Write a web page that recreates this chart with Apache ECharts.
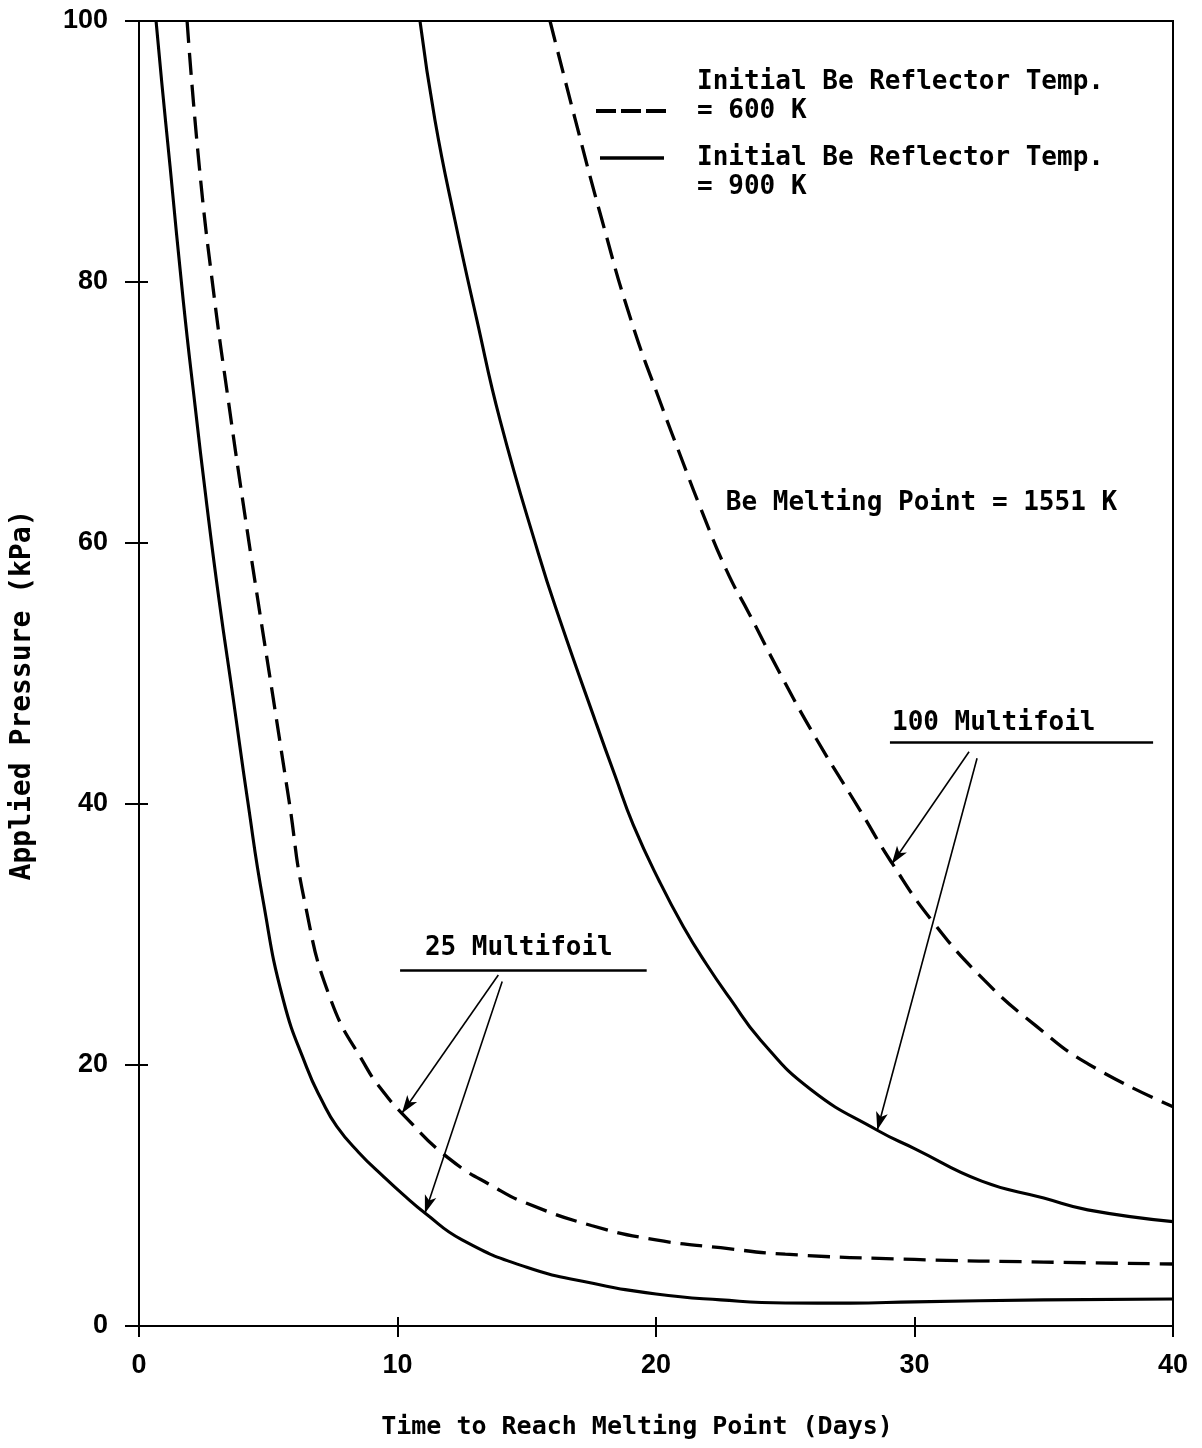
<!DOCTYPE html>
<html>
<head>
<meta charset="utf-8">
<script src="https://cdn.jsdelivr.net/npm/echarts@6/dist/echarts.min.js"></script>
<style>
html,body{margin:0;padding:0;background:#fff;}
#chart{width:1202px;height:1448px;}
</style>
</head>
<body>
<div id="chart"></div>
<script>
// ---- Data ----
// 25 Multifoil, initial Be reflector temp 900 K (solid)
const days25_900 = [0.66, 0.88, 1.2, 1.71, 2.17, 2.6, 3.1, 3.65, 4.2, 4.8, 5.58, 6.49, 7.07, 7.65, 8.5, 9.43, 10.2, 11.06, 12.5, 15, 17.5, 20, 22.5, 25, 27.5, 30, 35, 40];
const kpa25_900  = [100, 95.3, 88.9, 78.6, 70.5, 63.3, 55.6, 48, 40.3, 32.6, 25, 19.8, 17.3, 15.3, 13.3, 11.5, 10.1, 8.66, 6.6, 4.5, 3.3, 2.45, 2.0, 1.76, 1.75, 1.85, 2.0, 2.07];
// 25 Multifoil, 600 K (dashed)
const days25_600 = [1.86, 2.33, 2.9, 3.45, 4.01, 4.6, 5.2, 5.8, 6.4, 7.42, 8.8, 9.45, 10.17, 11.95, 13.87, 15, 17.5, 20, 22.5, 25, 30, 35, 40];
const kpa25_600  = [100, 88.9, 79, 71, 63.3, 55.6, 48, 40.3, 32.6, 25, 19.8, 17.95, 16.3, 12.9, 10.5, 9.4, 7.7, 6.6, 6.0, 5.5, 5.1, 4.9, 4.75];
// 100 Multifoil, 900 K (solid)
const days100_900 = [10.87, 11.45, 12.22, 13.07, 13.97, 15.45, 16.3, 17.7, 18.41, 19.12, 20.15, 21.06, 21.96, 22.86, 24.05, 26.0, 28.56, 30, 32.6, 35, 36.7, 40];
const kpa100_900  = [100, 92.4, 84.75, 77.1, 69.4, 59.2, 54.0, 46.1, 42.2, 38.4, 34.0, 30.6, 27.7, 25.1, 21.9, 18.1, 15.0, 13.6, 11.1, 9.8, 8.9, 8.0];
// 100 Multifoil, 600 K (dashed)
const days100_600 = [15.9, 16.87, 17.91, 19.03, 20.22, 21.0, 21.7, 22.73, 23.6, 24.8, 26.2, 27.9, 29.12, 30.7, 32.7, 34.7, 36.7, 40];
const kpa100_600  = [100, 92.5, 84.75, 77.1, 70.5, 66.4, 62.8, 57.9, 54.6, 50.0, 45.0, 39.5, 35.5, 31.0, 26.5, 23.0, 20.1, 16.8];

// Axis ticks
const xTicks = [0, 10, 20, 30, 40];
const yTicks = [0, 20, 40, 60, 80, 100];

// Annotations (data coordinates)
const noteText = ['25 Multifoil', '100 Multifoil', 'Be Melting Point = 1551 K'];
const noteDay  = [11.06, 29.13, 22.7];
const noteKpa  = [28.97, 46.2, 63.07];
const underlineFrom = [[10.1, 27.23], [29.05, 44.7]];
const underlineTo   = [[19.64, 27.23], [39.23, 44.7]];
const arrowFrom = [[13.9, 26.9], [14.05, 26.4], [32.11, 44.0], [32.42, 43.5]];
const arrowTo   = [[10.17, 16.3], [11.06, 8.64], [29.12, 35.4], [28.56, 15.02]];

const legend600 = ['Initial Be Reflector Temp.', '= 600 K'];
const legend900 = ['Initial Be Reflector Temp.', '= 900 K'];

// ---- Build ----
const zip = (xs, ys) => xs.map((x, i) => [x, ys[i]]);
const MONO = "'DejaVu Sans Mono', 'Liberation Mono', monospace";
const SANS = "'Liberation Sans', Arial, sans-serif";
const NAME600 = '600 K';
const NAME900 = '900 K';
const DASH_ICON = 'path://M0,0H20V4H0Z M25,0H45V4H25Z M50,0H70V4H50Z';
const SOLID_ICON = 'path://M0,0H70V4H0Z';

function curve(name, xs, ys, dashed) {
  return {
    type: 'line', name: name, xAxisIndex: 0, yAxisIndex: 0,
    data: zip(xs, ys), showSymbol: false, symbol: 'none',
    smooth: 0.5, clip: true, silent: true,
    lineStyle: { color: '#000', width: dashed ? 3.3 : 3.1, type: dashed ? [22, 10] : 'solid' },
    itemStyle: { color: '#000' },
    z: 3
  };
}

const markLines = [];
underlineFrom.forEach((p, i) => {
  markLines.push([
    { coord: p, symbol: 'none', lineStyle: { width: 2.6 } },
    { coord: underlineTo[i], symbol: 'none' }
  ]);
});
arrowFrom.forEach((p, i) => {
  markLines.push([
    { coord: p, symbol: 'none' },
    { coord: arrowTo[i], symbol: 'arrow' }
  ]);
});

const axisCommon = { color: '#000', width: 2 };
const legendText = { fontFamily: MONO, fontSize: 26, fontWeight: 'bold', lineHeight: 29, color: '#000', padding: [0, 0, 0, 26] };

const option = {
  backgroundColor: '#fff',
  animation: false,
  grid: { left: 139, right: 29, top: 21, bottom: 122, show: true, borderColor: '#000', borderWidth: 2, backgroundColor: 'transparent' },
  legend: [
    {
      data: [{ name: NAME600, icon: DASH_ICON }], left: 596, top: 67.5, padding: 0, orient: 'vertical',
      itemWidth: 70, itemHeight: 4, selectedMode: false,
      formatter: () => legend600.join('\n') + '\n\u00a0',
      textStyle: legendText
    },
    {
      data: [{ name: NAME900, icon: SOLID_ICON }], left: 600, top: 114.5, padding: 0, orient: 'vertical',
      itemWidth: 64, itemHeight: 4, selectedMode: false,
      formatter: () => '\u00a0\n' + legend900.join('\n'),
      textStyle: Object.assign({}, legendText, { padding: [0, 0, 0, 28] })
    }
  ],
  xAxis: [
    {
      type: 'value', min: xTicks[0], max: xTicks[xTicks.length - 1], interval: 10, position: 'bottom',
      name: 'Time to Reach Melting Point (Days)', nameLocation: 'middle', nameGap: 89,
      nameTextStyle: { fontFamily: MONO, fontSize: 25, fontWeight: 'bold', color: '#000', padding: [0, 38, 0, 0] },
      axisLine: { show: true, lineStyle: axisCommon },
      axisTick: { show: true, inside: false, length: 11, lineStyle: axisCommon },
      axisLabel: { show: true, margin: 26, fontFamily: SANS, fontSize: 27, fontWeight: 'bold', color: '#000' },
      splitLine: { show: false }
    },
    {
      type: 'value', min: xTicks[0], max: xTicks[xTicks.length - 1], interval: 10, position: 'bottom',
      axisLine: { show: false },
      axisTick: { show: true, inside: true, length: 9, lineStyle: axisCommon },
      axisLabel: { show: false }, splitLine: { show: false }
    }
  ],
  yAxis: [
    {
      type: 'value', min: yTicks[0], max: yTicks[yTicks.length - 1], interval: 20, position: 'left',
      name: 'Applied Pressure (kPa)', nameLocation: 'middle', nameGap: 102,
      nameTextStyle: { fontFamily: MONO, fontSize: 28, fontWeight: 'bold', color: '#000', padding: [0, 43, 0, 0] },
      axisLine: { show: true, lineStyle: axisCommon },
      axisTick: { show: true, inside: false, length: 14, lineStyle: axisCommon },
      axisLabel: { show: true, margin: 31, fontFamily: SANS, fontSize: 27, fontWeight: 'bold', color: '#000' },
      splitLine: { show: false }
    },
    {
      type: 'value', min: yTicks[0], max: yTicks[yTicks.length - 1], interval: 20, position: 'left',
      axisLine: { show: false },
      axisTick: { show: true, inside: true, length: 9, lineStyle: axisCommon },
      axisLabel: { show: false }, splitLine: { show: false }
    }
  ],
  series: [
    curve(NAME900, days25_900, kpa25_900, false),
    curve(NAME600, days25_600, kpa25_600, true),
    curve(NAME900, days100_900, kpa100_900, false),
    curve(NAME600, days100_600, kpa100_600, true),
    {
      type: 'scatter', name: 'notes', xAxisIndex: 0, yAxisIndex: 0, silent: true,
      symbolSize: 0, z: 4, itemStyle: { opacity: 1, color: '#000' },
      data: noteText.map((t, i) => ({ name: t, value: [noteDay[i], noteKpa[i]] })),
      label: { show: true, position: 'right', distance: 0, formatter: p => p.name, fontFamily: MONO, fontSize: 26, fontWeight: 'bold', color: '#000', opacity: 1 },
      markLine: {
        silent: true, animation: false, symbol: ['none', 'arrow'], symbolSize: [9, 18],
        label: { show: false },
        lineStyle: { color: '#000', width: 1.6, type: 'solid', opacity: 1 },
        emphasis: { disabled: true },
        data: markLines
      }
    }
  ]
};

const chart = echarts.init(document.getElementById('chart'), null, { renderer: 'canvas' });
chart.setOption(option);
</script>
</body>
</html>
